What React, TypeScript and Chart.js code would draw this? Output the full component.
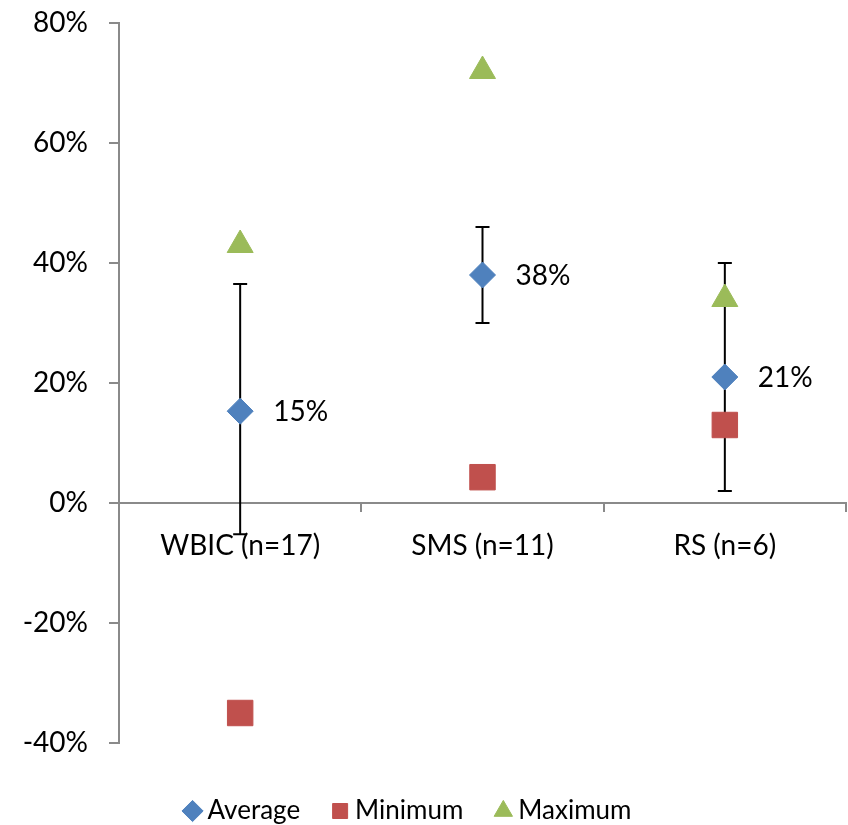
import React, { useEffect, useRef } from 'react';
import { Chart, registerables } from 'chart.js';

Chart.register(...registerables);

const categories = ['WBIC (n=17)', 'SMS (n=11)', 'RS (n=6)'];
const averageValues = [15.3, 38, 21];
const minimumValues = [-35, 4.3, 13];
const maximumValues = [43, 72, 34];
const errorHigh = [36.5, 46, 40];
const errorLow = [-5.2, 30, 2];
const averageLabels = ['15%', '38%', '21%'];
const seriesNames = ['Average', 'Minimum', 'Maximum'];

const FONT = 'Lato, "Open Sans", sans-serif';
const AXIS_COLOR = '#8a8a8a';

const errorBarPlugin = {
  id: 'errorBars',
  beforeDatasetsDraw(chart: any) {
    const meta = chart.getDatasetMeta(0);
    const yScale = chart.scales.y;
    const ctx = chart.ctx;
    ctx.save();
    ctx.strokeStyle = '#000000';
    ctx.lineWidth = 2;
    meta.data.forEach((pt: any, i: number) => {
      const x = pt.x;
      const yHi = yScale.getPixelForValue(errorHigh[i]);
      const yLo = yScale.getPixelForValue(errorLow[i]);
      ctx.beginPath();
      ctx.moveTo(x, yHi);
      ctx.lineTo(x, yLo);
      ctx.moveTo(x - 7, yHi);
      ctx.lineTo(x + 7, yHi);
      ctx.moveTo(x - 7, yLo);
      ctx.lineTo(x + 7, yLo);
      ctx.stroke();
    });
    ctx.restore();
  },
};

const dataLabelPlugin = {
  id: 'avgLabels',
  afterDatasetsDraw(chart: any) {
    const meta = chart.getDatasetMeta(0);
    const ctx = chart.ctx;
    ctx.save();
    ctx.fillStyle = '#000000';
    ctx.font = `28px ${FONT}`;
    ctx.textAlign = 'left';
    ctx.textBaseline = 'middle';
    meta.data.forEach((pt: any, i: number) => {
      ctx.fillText(averageLabels[i], pt.x + 33, pt.y + 1);
    });
    ctx.restore();
  },
};

const legendShiftPlugin = {
  id: 'legendShift',
  afterLayout(chart: any) {
    const lg = chart.legend;
    if (lg) {
      lg.left -= 12;
      lg.right -= 12;
    }
  },
};

export default function App() {
  const canvasRef = useRef<HTMLCanvasElement | null>(null);

  useEffect(() => {
    document.body.style.margin = '0';
    const canvas = canvasRef.current;
    if (!canvas) return;
    const chart = new Chart(canvas, {
      type: 'line',
      data: {
        labels: categories,
        datasets: [
          {
            label: seriesNames[0],
            data: averageValues,
            showLine: false,
            pointStyle: 'rectRot',
            pointRadius: 13,
            pointHoverRadius: 13,
            backgroundColor: '#4F81BD',
            borderColor: '#4F81BD',
            borderWidth: 1,
          },
          {
            label: seriesNames[1],
            data: minimumValues,
            showLine: false,
            pointStyle: 'rect',
            pointRadius: 18,
            pointHoverRadius: 18,
            backgroundColor: '#C0504D',
            borderColor: '#C0504D',
            borderWidth: 1,
          },
          {
            label: seriesNames[2],
            data: maximumValues,
            showLine: false,
            pointStyle: 'triangle',
            pointRadius: 15,
            pointHoverRadius: 15,
            backgroundColor: '#9BBB59',
            borderColor: '#9BBB59',
            borderWidth: 1,
          },
        ],
      },
      options: {
        responsive: false,
        animation: false,
        layout: { autoPadding: false, padding: { top: 23, right: 2, left: 0, bottom: -9 } },
        plugins: {
          tooltip: { enabled: false },
          legend: {
            position: 'bottom',
            labels: {
              usePointStyle: true,
              boxWidth: 4,
              boxHeight: 15,
              padding: 38,
              color: '#000000',
              font: { family: FONT, size: 26 },
            },
          },
        },
        scales: {
          x: {
            type: 'category',
            position: { y: 0 },
            offset: true,
            grid: {
              offset: true,
              drawOnChartArea: false,
              drawTicks: true,
              tickLength: 8,
              color: AXIS_COLOR,
              lineWidth: 2,
            },
            border: { color: AXIS_COLOR, width: 2 },
            ticks: {
              color: '#000000',
              padding: 18,
              font: { family: FONT, size: 28 },
              maxRotation: 0,
            },
            afterFit: (s: any) => {
              s.paddingLeft = 0;
              s.paddingRight = 0;
            },
          },
          xPad: {
            type: 'category',
            position: 'bottom',
            labels: [''],
            grid: { display: false },
            border: { display: false },
            ticks: { display: false },
            afterFit: (s: any) => {
              s.height = 17;
              s.paddingLeft = 0;
              s.paddingRight = 0;
            },
          },
          y: {
            type: 'linear',
            position: 'left',
            min: -40,
            max: 80,
            grid: {
              drawOnChartArea: false,
              drawTicks: true,
              tickLength: 10,
              color: AXIS_COLOR,
              lineWidth: 2,
            },
            border: { color: AXIS_COLOR, width: 2 },
            ticks: {
              stepSize: 20,
              color: '#000000',
              padding: 21,
              font: { family: FONT, size: 28 },
              callback: (v: any) => `${v}%`,
            },
            afterFit: (s: any) => {
              s.width = 119;
              s.paddingTop = 0;
              s.paddingBottom = 0;
            },
          },
        },
      } as any,
      plugins: [errorBarPlugin, dataLabelPlugin, legendShiftPlugin],
    });
    return () => chart.destroy();
  }, []);

  return (
    <div style={{ position: 'absolute', left: 0, top: 0, width: 848, height: 825 }}>
      <canvas ref={canvasRef} width={848} height={825} style={{ width: 848, height: 825 }} />
    </div>
  );
}
